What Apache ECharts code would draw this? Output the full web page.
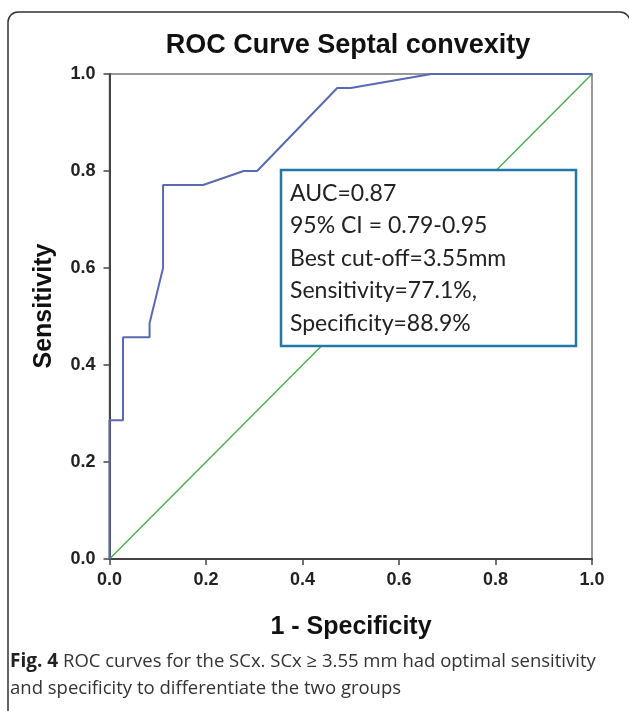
<!DOCTYPE html>
<html>
<head>
<meta charset="utf-8">
<script src="https://cdn.jsdelivr.net/npm/echarts@6/dist/echarts.min.js"></script>
<style>html,body{margin:0;padding:0;background:#fff;}#c{width:629px;height:711px;}</style>
</head>
<body>
<div id="c"></div>
<script>
const titleText = 'ROC Curve Septal convexity';
const xName = '1 - Specificity';
const yName = 'Sensitivity';
const fpr = [0, 0, 0.028, 0.028, 0.083, 0.083, 0.111, 0.111, 0.194, 0.278, 0.306, 0.472, 0.5, 0.667, 1];
const tpr = [0, 0.286, 0.286, 0.457, 0.457, 0.486, 0.6, 0.771, 0.771, 0.8, 0.8, 0.971, 0.971, 1, 1];
const refX = [0, 1];
const refY = [0, 1];
const tickLabels = ['0.0', '0.2', '0.4', '0.6', '0.8', '1.0'];
const boxLines = ['AUC=0.87', '95% CI = 0.79-0.95', 'Best cut-off=3.55mm', 'Sensitivity=77.1%,', 'Specificity=88.9%'];
const captionBold = 'Fig. 4';
const captionRest = ' ROC curves for the SCx. SCx \u2265 3.55 mm had optimal sensitivity';
const captionLine2 = 'and specificity to differentiate the two groups';

const chart = echarts.init(document.getElementById('c'), null, {renderer: 'canvas'});
const FONT = 'Liberation Sans, Arial, sans-serif';
const axisLab = {fontFamily: FONT, fontWeight: 'bold', fontSize: 18, color: '#222',
  formatter: v => tickLabels[Math.round(v * 5)]};
const option = {
  animation: false,
  backgroundColor: '#fff',
  title: {text: titleText, left: 343, textAlign: 'center', top: 27,
    textStyle: {fontFamily: FONT, fontWeight: 'bold', fontSize: 27, color: '#111'}},
  grid: {left: 109.5, top: 74, right: 37, bottom: 152, show: true, borderColor: '#777', borderWidth: 1.5},
  xAxis: {type: 'value', min: 0, max: 1, interval: 0.2,
    axisLine: {show: true, lineStyle: {color: '#444', width: 2}},
    axisTick: {show: true, length: 6, lineStyle: {color: '#444', width: 1.5}},
    axisLabel: Object.assign({margin: 12}, axisLab),
    splitLine: {show: false}},
  yAxis: {type: 'value', min: 0, max: 1, interval: 0.2,
    axisLine: {show: true, lineStyle: {color: '#444', width: 2}},
    axisTick: {show: true, length: 6, lineStyle: {color: '#444', width: 1.5}},
    axisLabel: Object.assign({margin: 14}, axisLab),
    splitLine: {show: false}},
  series: [
    {type: 'line', data: refX.map((x, i) => [x, refY[i]]), showSymbol: false,
      lineStyle: {color: '#4fb04f', width: 1.5}, z: 2},
    {type: 'line', data: fpr.map((x, i) => [x, tpr[i]]), showSymbol: false,
      lineStyle: {color: '#5a69b4', width: 2}, z: 3}
  ],
  graphic: [
    {type: 'rect', shape: {x: 8, y: 12, width: 622, height: 712, r: 10},
      style: {fill: 'none', stroke: '#333', lineWidth: 1.5}, z: 0, silent: true},
    {type: 'text', x: 351, y: 627, z: 11,
      style: {text: xName, font: 'bold 25px ' + FONT, fill: '#111', align: 'center', verticalAlign: 'middle'}},
    {type: 'text', x: 44, y: 306, rotation: Math.PI / 2, z: 11,
      style: {text: yName, font: 'bold 25px ' + FONT, fill: '#111', align: 'center', verticalAlign: 'middle'}},
    {type: 'rect', shape: {x: 281, y: 170, width: 295, height: 176},
      style: {fill: '#fff', stroke: '#2177a9', lineWidth: 2.5}, z: 10},
    {type: 'text', left: 290, top: 177, z: 11,
      style: {text: boxLines.join('\n'), font: '23px Lato, "Open Sans", sans-serif', fill: '#222', lineHeight: 32.5}},
    {type: 'text', left: 10, top: 652, z: 11,
      style: {text: '{b|' + captionBold + '}{r|' + captionRest + '}\n{r|' + captionLine2 + '}',
        rich: {b: {font: 'bold 19px "Open Sans", sans-serif', fill: '#222', lineHeight: 27},
               r: {font: '18.5px "Open Sans", sans-serif', fill: '#333', lineHeight: 27}}}}
  ]
};
chart.setOption(option);
</script>
</body>
</html>
